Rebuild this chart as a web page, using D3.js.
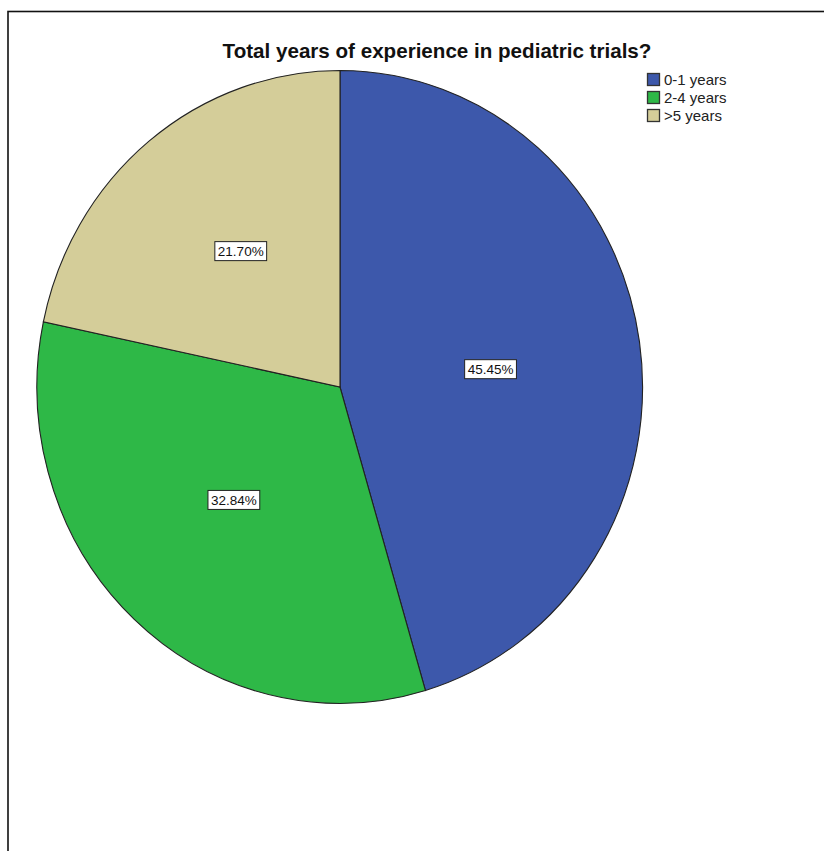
<!DOCTYPE html>
<html>
<head>
<meta charset="utf-8">
<script src="https://cdn.jsdelivr.net/npm/d3@7"></script>
<style>
  html, body { margin: 0; padding: 0; background: #fff; }
  svg { display: block; }
</style>
</head>
<body>
<script>
// Survey answer categories and their shares (percent)
const categories = ["0-1 years", "2-4 years", ">5 years"];
const percents = [45.45, 32.84, 21.70];
const colors = ["#3d58ab", "#2eb847", "#d4cd99"];
const titleText = "Total years of experience in pediatric trials?";

const width = 824, height = 851;
const font = "Arial, 'Liberation Sans', sans-serif";
const svg = d3.select("body").append("svg")
  .attr("width", width).attr("height", height);

// Outer frame
svg.append("rect")
  .attr("x", 8).attr("y", 11.5)
  .attr("width", 830).attr("height", 860)
  .attr("fill", "none").attr("stroke", "#111").attr("stroke-width", 1.6);

// Title
svg.append("text")
  .attr("x", 437).attr("y", 58)
  .attr("text-anchor", "middle")
  .attr("font-family", font)
  .attr("font-size", 20.6).attr("font-weight", "bold")
  .attr("fill", "#111")
  .text(titleText);

// Pie (drawn on a unit circle, then stretched slightly taller than wide)
const cx = 340, cy = 387, rx = 303, ry = 316.5;
const pie = d3.pie().sort(null).value(d => d)(percents);
const arc = d3.arc().innerRadius(0).outerRadius(1);

const g = svg.append("g")
  .attr("transform", `translate(${cx},${cy}) scale(${rx},${ry})`);
g.selectAll("path").data(pie).join("path")
  .attr("d", arc)
  .attr("fill", (d, i) => colors[i])
  .attr("stroke", "#222")
  .attr("stroke-width", 1.1)
  .attr("vector-effect", "non-scaling-stroke");

// Value labels in boxes, placed half way out along each slice's mid angle
const labels = svg.append("g");
pie.forEach((d, i) => {
  const mid = (d.startAngle + d.endAngle) / 2 + 0.03;
  const span = d.endAngle - d.startAngle;
  const r = span < 1.6 ? 0.54 : 0.5;
  const x = cx + Math.sin(mid) * r * rx;
  const y = cy - Math.cos(mid) * r * ry;
  const lg = labels.append("g").attr("transform", `translate(${x},${y})`);
  const t = lg.append("text")
    .attr("text-anchor", "middle")
    .attr("dy", "0.36em")
    .attr("font-family", font)
    .attr("font-size", 13.5)
    .attr("fill", "#111")
    .text(percents[i].toFixed(2) + "%");
  const bb = t.node().getBBox();
  lg.insert("rect", "text")
    .attr("x", bb.x - 3).attr("y", -9.5)
    .attr("width", bb.width + 6).attr("height", 19)
    .attr("fill", "#fff").attr("stroke", "#222").attr("stroke-width", 1);
});

// Legend
const legend = svg.append("g").attr("transform", "translate(647,73)");
categories.forEach((c, i) => {
  const row = legend.append("g").attr("transform", `translate(0,${i * 18})`);
  row.append("rect")
    .attr("x", 0.5).attr("y", 0.5).attr("width", 12).attr("height", 12)
    .attr("fill", colors[i]).attr("stroke", "#333").attr("stroke-width", 1.3);
  row.append("text")
    .attr("x", 17).attr("y", 11.5)
    .attr("font-family", font)
    .attr("font-size", 15).attr("fill", "#222")
    .text(c);
});
</script>
</body>
</html>
